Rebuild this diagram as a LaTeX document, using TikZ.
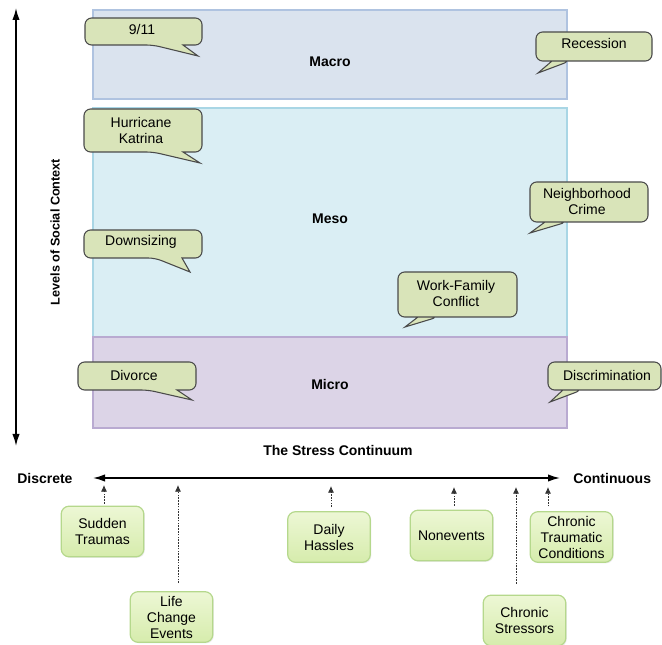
\documentclass[tikz,border=0pt]{standalone}
\usepackage{fontspec}
\setmainfont{Liberation Sans}
\usetikzlibrary{arrows.meta,shadows}

\definecolor{macrofill}{HTML}{DAE3EE}
\definecolor{macroline}{HTML}{AFC3E0}
\definecolor{mesofill}{HTML}{DAEEF4}
\definecolor{mesoline}{HTML}{A9D6E5}
\definecolor{microfill}{HTML}{DCD4E7}
\definecolor{microline}{HTML}{B9AAD1}
\definecolor{bubfill}{HTML}{D9E4B9}
\definecolor{bubedge}{HTML}{4A4A4A}
\definecolor{boxtop}{HTML}{EDF7D5}
\definecolor{boxbot}{HTML}{D6ECAC}
\definecolor{boxline}{HTML}{B5D88C}

% speech bubble: body corners (x1,y1)-(x2,y2), tail base bx1..bx2 on the bottom edge, tail tip
\newcommand\speechbubble[8]{%
  \draw[bubline] (#5,#4) -- (#7,#8) -- (#6,#4) [rounded corners=5pt]
    -- (#3,#4) -- (#3,#2) -- (#1,#2) -- (#1,#4) -- cycle;}

\begin{document}
\begin{tikzpicture}[x=0.75pt,y=-0.75pt,
  font=\fontsize{10.5}{12}\selectfont,
  bubline/.style={draw=bubedge, fill=bubfill, line width=0.8pt},
  bubtext/.style={align=center, inner sep=0pt},
  level/.style={line width=0.8pt},
  levellabel/.style={font=\fontsize{10.5}{12}\selectfont\bfseries},
  stressbox/.style={draw=boxline, line width=0.9pt, rounded corners=6pt,
    top color=boxtop, bottom color=boxbot, align=center, inner sep=1pt,
    minimum width=62pt, minimum height=38pt,
    drop shadow={shadow xshift=0.8pt, shadow yshift=-0.8pt, opacity=0.15}},
  ptr/.style={draw=black!80, line width=0.6pt, dash pattern=on 1.2pt off 0.9pt,
    -{Latex[length=5pt,width=4.5pt]}},
  axisline/.style={line width=1.1pt,
    {Latex[length=9pt,width=5.5pt]}-{Latex[length=9pt,width=5.5pt]}}]
\useasboundingbox (0,0) rectangle (662,645);

% levels of social context
\draw[level, fill=macrofill, draw=macroline] (93,10) rectangle (567,99);
\draw[level, fill=mesofill, draw=mesoline] (93,108) rectangle (567,337);
\draw[level, fill=microfill, draw=microline] (93,337) rectangle (567,428);
\node[levellabel] (macro) at (330,62) {Macro};
\node[levellabel] (meso) at (330,219) {Meso};
\node[levellabel] (micro) at (330,384) {Micro};

% vertical axis
\coordinate (vtop) at (16,8);
\coordinate (vbot) at (16,446);
\draw[axisline] (vtop) -- (vbot);
\node[rotate=90, font=\fontsize{9.5}{11}\selectfont\bfseries] (levels) at (55,232) {Levels of Social Context};

% example stressors
\speechbubble{85}{18}{202}{45}{153}{183}{198}{56}
\node[bubtext] (n911) at (142,30) {9/11};
\speechbubble{84}{109}{202}{152}{153}{183}{200}{163}
\node[bubtext] (nkatrina) at (141,130) {Hurricane\\Katrina};
\speechbubble{84}{230}{202}{258}{155}{182}{190}{272}
\node[bubtext] (ndown) at (141,242) {Downsizing};
\speechbubble{78}{362}{196}{390}{148}{177}{192}{400}
\node[bubtext] (ndivorce) at (134,375) {Divorce};
\speechbubble{536}{32}{652}{61}{570}{552}{538}{73}
\node[bubtext] (nrecession) at (594,44) {Recession};
\speechbubble{530}{182}{648}{222}{567}{545}{530}{233}
\node[bubtext] (ncrime) at (587,201) {Neighborhood\\Crime};
\speechbubble{398}{272}{517}{317}{438}{418}{405}{327}
\node[bubtext] (nwork) at (456,293) {Work-Family\\Conflict};
\speechbubble{548}{362}{661}{390}{582}{563}{550}{402}
\node[bubtext] (ndiscr) at (607,375) {Discrimination};

% stress continuum
\node[levellabel] (continuum) at (338,450) {The Stress Continuum};
\coordinate (hl) at (93,478);
\coordinate (hr) at (560,478);
\draw[axisline] (hl) -- (hr);
\node[levellabel, anchor=west, inner sep=0pt] (discrete) at (17,478) {Discrete};
\node[levellabel, anchor=west, inner sep=0pt] (continuous) at (573,478) {Continuous};

\node[stressbox] (st) at (102.5,531.5) {Sudden\\Traumas};
\node[stressbox] (lce) at (171.5,617) {Life\\Change\\Events};
\node[stressbox] (dh) at (329,537) {Daily\\Hassles};
\node[stressbox] (ne) at (451.5,535.5) {Nonevents};
\node[stressbox] (cs) at (524.5,620.5) {Chronic\\Stressors};
\node[stressbox] (ctc) at (571.5,537) {Chronic\\Traumatic\\Conditions};

\coordinate (tst) at (104,485);
\coordinate (tlce) at (178,485);
\coordinate (tdh) at (331,486);
\coordinate (tne) at (454,487);
\coordinate (tcs) at (516,487);
\coordinate (tctc) at (548,487);
\draw[ptr, shorten <=1.5pt] (tst |- st.north) -- (tst);
\draw[ptr, shorten <=6pt] (tlce |- lce.north) -- (tlce);
\draw[ptr, shorten <=3pt] (tdh |- dh.north) -- (tdh);
\draw[ptr, shorten <=3pt] (tne |- ne.north) -- (tne);
\draw[ptr, shorten <=8pt] (tcs |- cs.north) -- (tcs);
\draw[ptr, shorten <=3.5pt] (tctc |- ctc.north) -- (tctc);
\end{tikzpicture}
\end{document}
